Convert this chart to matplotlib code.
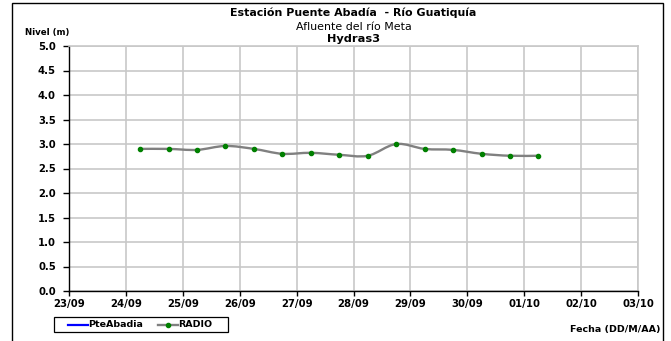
import matplotlib
matplotlib.use("Agg")
import matplotlib.pyplot as plt
import matplotlib.patches as mpatches
from matplotlib.path import Path
from matplotlib.lines import Line2D

plt.rcParams['font.family'] = ['DejaVu Sans']

# Data: days after 23/09 00:00, level in m
day_labels = ["23/09", "24/09", "25/09", "26/09", "27/09", "28/09",
              "29/09", "30/09", "01/10", "02/10", "03/10"]
radio_days = [1.25, 1.75, 2.25, 2.75, 3.25, 3.75, 4.25, 4.75,
              5.25, 5.75, 6.25, 6.75, 7.25, 7.75, 8.25]
radio_level = [2.90, 2.90, 2.88, 2.96, 2.90, 2.80, 2.82, 2.78,
               2.76, 3.00, 2.90, 2.88, 2.80, 2.76, 2.76]
y_ticks = [0.0, 0.5, 1.0, 1.5, 2.0, 2.5, 3.0, 3.5, 4.0, 4.5, 5.0]
series_names = ["PteAbadia", "RADIO"]

W, H = 671, 341
fig = plt.figure(figsize=(W / 100, H / 100), dpi=100)
ax = fig.add_axes([69 / W, 1 - 291 / H, (638 - 69) / W, (291 - 46) / H])


def smooth_path(xs, ys, t=1.0 / 6):
    """Excel-like smoothed line: cubic Bezier segments through the points."""
    verts = [(xs[0], ys[0])]
    codes = [Path.MOVETO]
    n = len(xs)
    for i in range(n - 1):
        x0, y0 = (xs[i - 1], ys[i - 1]) if i > 0 else (xs[i], ys[i])
        x1, y1 = xs[i], ys[i]
        x2, y2 = xs[i + 1], ys[i + 1]
        x3, y3 = (xs[i + 2], ys[i + 2]) if i + 2 < n else (x2, y2)
        c1 = (x1 + (x2 - x0) * t, y1 + (y2 - y0) * t)
        c2 = (x2 - (x3 - x1) * t, y2 - (y3 - y1) * t)
        verts += [c1, c2, (x2, y2)]
        codes += [Path.CURVE4] * 3
    return Path(verts, codes)


ax.add_patch(mpatches.PathPatch(smooth_path(radio_days, radio_level), fill=False,
                                edgecolor='#808080', lw=1.7, zorder=3,
                                capstyle='round', joinstyle='round'))
ax.plot(radio_days, radio_level, ls='none', marker='o', ms=3.0,
        color='#008000', zorder=4)

ax.set_xlim(0, 10)
ax.set_ylim(0, 5)
ax.set_xticks(range(len(day_labels)))
ax.set_xticklabels(day_labels, fontsize=7.3, fontweight='bold')
ax.set_yticks(y_ticks)
ax.set_yticklabels([f"{v:.1f}" for v in y_ticks], fontsize=7.2, fontweight='bold')
ax.grid(True, color='#c8c8c8', lw=1.2)
ax.set_axisbelow(True)
for s in ['top', 'right']:
    ax.spines[s].set_color('#c8c8c8')
    ax.spines[s].set_linewidth(1.2)
for s in ['left', 'bottom']:
    ax.spines[s].set_color('black')
    ax.spines[s].set_linewidth(1.0)
ax.tick_params(axis='y', direction='out', length=4.5, width=1, color='black', pad=5)
ax.tick_params(axis='x', direction='out', length=3.5, width=1, color='black', pad=2)

# Titles
cx = (69 + 638) / 2 / W
fig.text(cx, 1 - 16 / H, "Estación Puente Abadía  - Río Guatiquía", ha='center',
         va='baseline', fontsize=7.9, fontweight='bold')
fig.text(cx, 1 - 29.5 / H, "Afluente del río Meta", ha='center', va='baseline',
         fontsize=7.9)
fig.text(cx, 1 - 42 / H, "Hydras3", ha='center', va='baseline', fontsize=8.2,
         fontweight='bold')
fig.text(25 / W, 1 - 35 / H, "Nivel (m)", ha='left', va='baseline', fontsize=6.2,
         fontweight='bold')
fig.text(660 / W, 1 - 332 / H, "Fecha (DD/M/AA)", ha='right', va='baseline',
         fontsize=6.8, fontweight='bold')

# Legend (drawn manually to match box geometry)
def fx(px):
    return px / W


def fy(py):
    return 1 - py / H


box = mpatches.Rectangle((fx(54), fy(332)), (228 - 54) / W, (332 - 317) / H,
                         transform=fig.transFigure, fill=True, facecolor='white',
                         edgecolor='black', lw=0.9)
fig.patches.append(box)
ly = fy(324.5)
fig.lines.append(Line2D([fx(68), fx(88)], [ly, ly], transform=fig.transFigure,
                        color='#0000ff', lw=1.6))
fig.text(fx(88), ly, series_names[0], ha='left', va='center', fontsize=6.8,
         fontweight='bold')
fig.lines.append(Line2D([fx(158), fx(178)], [ly, ly], transform=fig.transFigure,
                        color='#808080', lw=1.7))
fig.lines.append(Line2D([fx(168)], [ly], transform=fig.transFigure, ls='none',
                        marker='o', ms=3, color='#008000'))
fig.text(fx(178), ly, series_names[1], ha='left', va='center', fontsize=6.8,
         fontweight='bold')

# Outer frame
frame = mpatches.Rectangle((12 / W, -0.05), (663 - 12) / W, 1.05 - 3 / H,
                           transform=fig.transFigure, fill=False,
                           edgecolor='black', lw=1.0)
fig.patches.append(frame)

fig.savefig("out.png", dpi=100)
